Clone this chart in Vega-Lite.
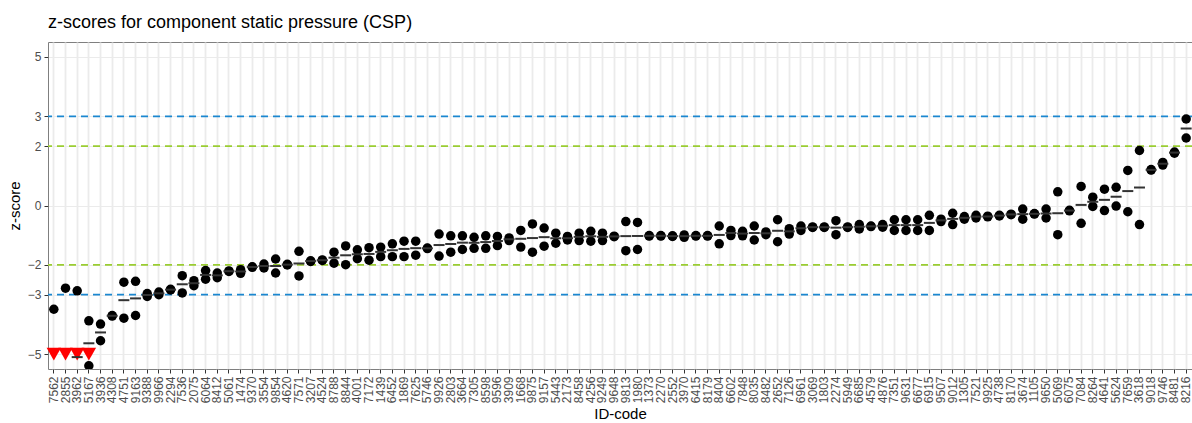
{
  "$schema": "https://vega.github.io/schema/vega-lite/v6.json",
  "autosize": {"type": "none"},
  "padding": {"left": 48, "top": 42, "right": 0, "bottom": 54},
  "width": 1144,
  "height": 327,
  "title": {"text": "z-scores for component static pressure (CSP)", "anchor": "start", "frame": "group", "fontSize": 18, "fontWeight": "normal", "color": "#000000", "offset": 10, "font": "Liberation Sans"},
  "datasets": {
    "scores": [
      {"id":"7562","z":-3.49},{"id":"7562","z":-9},
      {"id":"2855","z":-2.78},{"id":"2855","z":-9},
      {"id":"3962","z":-2.87},{"id":"3962","z":-7.33},
      {"id":"5167","z":-3.88},{"id":"5167","z":-5.39},
      {"id":"3936","z":-3.99},{"id":"3936","z":-4.55},
      {"id":"4308","z":-3.70},{"id":"4308","z":-3.72},
      {"id":"4751","z":-2.58},{"id":"4751","z":-3.79},
      {"id":"9163","z":-2.55},{"id":"9163","z":-3.70},
      {"id":"9388","z":-2.96},{"id":"9388","z":-3.06},
      {"id":"9966","z":-2.91},{"id":"9966","z":-3.00},
      {"id":"2294","z":-2.82},{"id":"2294","z":-2.84},
      {"id":"7536","z":-2.36},{"id":"7536","z":-2.94},
      {"id":"2075","z":-2.53},{"id":"2075","z":-2.70},
      {"id":"6064","z":-2.19},{"id":"6064","z":-2.48},
      {"id":"8412","z":-2.27},{"id":"8412","z":-2.43},
      {"id":"5061","z":-2.20},{"id":"5061","z":-2.22},
      {"id":"1474","z":-2.16},{"id":"1474","z":-2.28},
      {"id":"9370","z":-2.06},{"id":"9370","z":-2.08},
      {"id":"3554","z":-1.97},{"id":"3554","z":-2.10},
      {"id":"9854","z":-1.80},{"id":"9854","z":-2.27},
      {"id":"4620","z":-1.98},{"id":"4620","z":-2.00},
      {"id":"7571","z":-1.54},{"id":"7571","z":-2.37},
      {"id":"3207","z":-1.86},{"id":"3207","z":-1.88},
      {"id":"4524","z":-1.83},{"id":"4524","z":-1.85},
      {"id":"8788","z":-1.57},{"id":"8788","z":-1.94},
      {"id":"8844","z":-1.36},{"id":"8844","z":-1.99},
      {"id":"4001","z":-1.49},{"id":"4001","z":-1.79},
      {"id":"7172","z":-1.42},{"id":"7172","z":-1.84},
      {"id":"1439","z":-1.40},{"id":"1439","z":-1.72},
      {"id":"6452","z":-1.29},{"id":"6452","z":-1.72},
      {"id":"1869","z":-1.20},{"id":"1869","z":-1.72},
      {"id":"7625","z":-1.20},{"id":"7625","z":-1.67},
      {"id":"5746","z":-1.43},{"id":"5746","z":-1.45},
      {"id":"9926","z":-0.96},{"id":"9926","z":-1.70},
      {"id":"2803","z":-1.02},{"id":"2803","z":-1.57},
      {"id":"3664","z":-1.02},{"id":"3664","z":-1.48},
      {"id":"7305","z":-1.07},{"id":"7305","z":-1.44},
      {"id":"8598","z":-1.02},{"id":"8598","z":-1.44},
      {"id":"9596","z":-1.04},{"id":"9596","z":-1.35},
      {"id":"3909","z":-1.09},{"id":"3909","z":-1.18},
      {"id":"1668","z":-0.84},{"id":"1668","z":-1.40},
      {"id":"9875","z":-0.62},{"id":"9875","z":-1.57},
      {"id":"9157","z":-0.76},{"id":"9157","z":-1.37},
      {"id":"5443","z":-0.93},{"id":"5443","z":-1.27},
      {"id":"2173","z":-1.04},{"id":"2173","z":-1.16},
      {"id":"8458","z":-0.93},{"id":"8458","z":-1.18},
      {"id":"4256","z":-0.87},{"id":"4256","z":-1.20},
      {"id":"9249","z":-0.93},{"id":"9249","z":-1.18},
      {"id":"9648","z":-1.03},{"id":"9648","z":-1.05},
      {"id":"9813","z":-0.54},{"id":"9813","z":-1.52},
      {"id":"1980","z":-0.57},{"id":"1980","z":-1.48},
      {"id":"1373","z":-1.01},{"id":"1373","z":-1.03},
      {"id":"2270","z":-1.01},{"id":"2270","z":-1.03},
      {"id":"2552","z":-1.02},{"id":"2552","z":-1.04},
      {"id":"3970","z":-0.99},{"id":"3970","z":-1.07},
      {"id":"6415","z":-1.01},{"id":"6415","z":-1.03},
      {"id":"8179","z":-1.01},{"id":"8179","z":-1.03},
      {"id":"8404","z":-0.69},{"id":"8404","z":-1.29},
      {"id":"6602","z":-0.84},{"id":"6602","z":-1.01},
      {"id":"7848","z":-0.87},{"id":"7848","z":-1.02},
      {"id":"8035","z":-0.69},{"id":"8035","z":-1.16},
      {"id":"8482","z":-0.89},{"id":"8482","z":-0.98},
      {"id":"2652","z":-0.48},{"id":"2652","z":-1.22},
      {"id":"7126","z":-0.78},{"id":"7126","z":-0.96},
      {"id":"6961","z":-0.69},{"id":"6961","z":-0.84},
      {"id":"3069","z":-0.72},{"id":"3069","z":-0.74},
      {"id":"1803","z":-0.72},{"id":"1803","z":-0.74},
      {"id":"2274","z":-0.51},{"id":"2274","z":-0.98},
      {"id":"5949","z":-0.72},{"id":"5949","z":-0.74},
      {"id":"6685","z":-0.64},{"id":"6685","z":-0.79},
      {"id":"4579","z":-0.69},{"id":"4579","z":-0.71},
      {"id":"4876","z":-0.64},{"id":"4876","z":-0.73},
      {"id":"7351","z":-0.48},{"id":"7351","z":-0.84},
      {"id":"9631","z":-0.48},{"id":"9631","z":-0.84},
      {"id":"6677","z":-0.48},{"id":"6677","z":-0.84},
      {"id":"6915","z":-0.33},{"id":"6915","z":-0.84},
      {"id":"9507","z":-0.46},{"id":"9507","z":-0.54},
      {"id":"9012","z":-0.26},{"id":"9012","z":-0.64},
      {"id":"1305","z":-0.37},{"id":"1305","z":-0.46},
      {"id":"7521","z":-0.33},{"id":"7521","z":-0.42},
      {"id":"9925","z":-0.36},{"id":"9925","z":-0.38},
      {"id":"4738","z":-0.33},{"id":"4738","z":-0.35},
      {"id":"8170","z":-0.29},{"id":"8170","z":-0.31},
      {"id":"3674","z":-0.12},{"id":"3674","z":-0.46},
      {"id":"1105","z":-0.27},{"id":"1105","z":-0.29},
      {"id":"9650","z":-0.12},{"id":"9650","z":-0.42},
      {"id":"5069","z":0.46},{"id":"5069","z":-0.98},
      {"id":"6075","z":-0.16},{"id":"6075","z":-0.18},
      {"id":"7084","z":0.64},{"id":"7084","z":-0.60},
      {"id":"8264","z":0.28},{"id":"8264","z":-0.03},
      {"id":"4641","z":0.55},{"id":"4641","z":-0.17},
      {"id":"5624","z":0.61},{"id":"5624","z":-0.02},
      {"id":"7659","z":1.18},{"id":"7659","z":-0.21},
      {"id":"3618","z":1.85},{"id":"3618","z":-0.64},
      {"id":"9018","z":1.19},{"id":"9018","z":1.21},
      {"id":"9746","z":1.45},{"id":"9746","z":1.36},
      {"id":"8481","z":1.80},{"id":"8481","z":1.76},
      {"id":"8216","z":2.91},{"id":"8216","z":2.27}
    ],
    "limits3": [{"lim": 3}, {"lim": -3}],
    "limits2": [{"lim": 2}, {"lim": -2}]
  },
  "data": {"name": "scores"},
  "layer": [
    {
      "data": {"name": "limits3"},
      "mark": {"type": "rule", "color": "#1B87D0", "strokeWidth": 1.8, "strokeDash": [7, 5]},
      "encoding": {
        "y": {"field": "lim", "type": "quantitative", "scale": {"domain": [-5.5, 5.5], "nice": false, "zero": false},
              "axis": {"title": "z-score", "values": [5, 3, 2, 0, -2, -3, -5], "labelPadding": 3, "titlePadding": 5, "gridWidth": 1.2}}
      }
    },
    {
      "data": {"name": "limits2"},
      "mark": {"type": "rule", "color": "#9ACD32", "strokeWidth": 1.8, "strokeDash": [7, 5]},
      "encoding": {"y": {"field": "lim", "type": "quantitative"}}
    },
    {
      "transform": [{"filter": "datum.z < -5"}],
      "mark": {"type": "point", "shape": "triangle-down", "filled": true, "color": "#FF0000", "opacity": 1, "size": 210},
      "encoding": {
        "x": {"field": "id", "type": "nominal", "sort": null,
              "axis": {"title": "ID-code", "labelAngle": 270, "labelPadding": 3, "titlePadding": 4, "gridWidth": 1.8}},
        "y": {"datum": -5, "type": "quantitative"}
      }
    },
    {
      "mark": {"type": "circle", "color": "#000000", "opacity": 1, "size": 90, "clip": true},
      "encoding": {
        "x": {"field": "id", "type": "nominal", "sort": null},
        "y": {"field": "z", "type": "quantitative"}
      }
    },
    {
      "mark": {"type": "tick", "color": "#333333", "thickness": 2, "size": 11, "clip": true, "opacity": 1},
      "encoding": {
        "x": {"field": "id", "type": "nominal", "sort": null},
        "y": {"field": "z", "type": "quantitative", "aggregate": "mean"}
      }
    }
  ],
  "config": {
    "font": "Liberation Sans",
    "view": {"stroke": "#7F7F7F", "strokeWidth": 1},
    "scale": {"pointPadding": 0.5},
    "axis": {
      "domain": false,
      "labelColor": "#4D4D4D",
      "labelFontSize": 12,
      "titleFontSize": 15,
      "titleFontWeight": "normal",
      "titleColor": "#000000",
      "gridColor": "#EBEBEB",
      "tickColor": "#333333",
      "tickSize": 4,
      "grid": true
    }
  }
}
